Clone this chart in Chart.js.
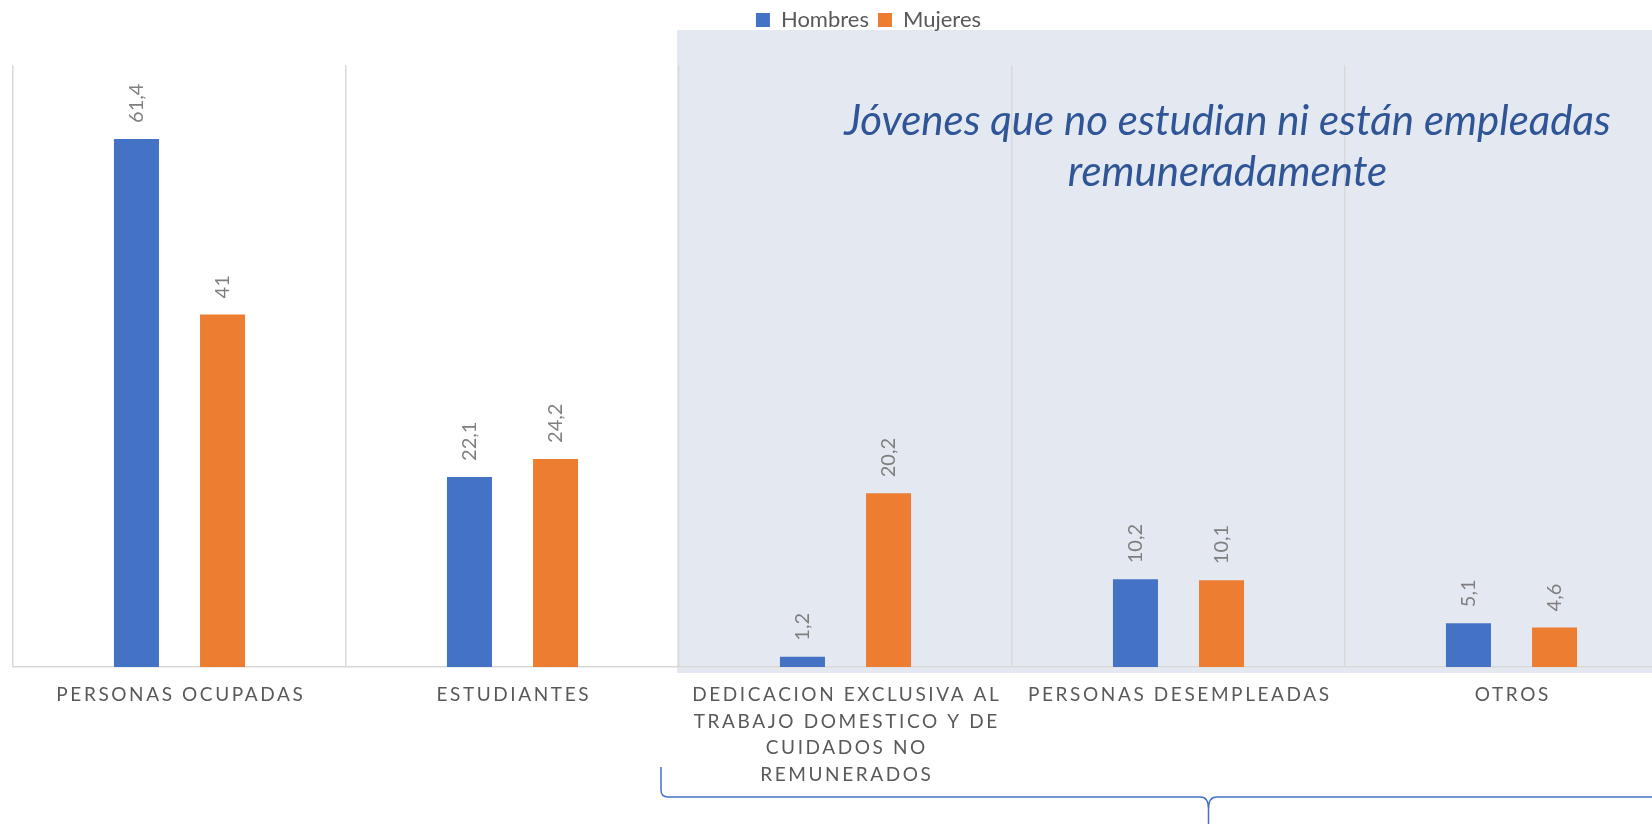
<!DOCTYPE html>
<html>
<head>
<meta charset="utf-8">
<script src="https://cdn.jsdelivr.net/npm/chart.js@4.4.1/dist/chart.umd.min.js"></script>
<style>
  html, body { margin: 0; padding: 0; background: #fff; overflow: hidden; }
  #wrap { width: 1652px; height: 824px; overflow: hidden; position: relative; }
  canvas { display: block; }
</style>
</head>
<body>
<div id="wrap"><canvas id="chart" width="1736" height="824"></canvas></div>
<script>
const categories = [
  "PERSONAS OCUPADAS",
  "ESTUDIANTES",
  ["DEDICACION EXCLUSIVA AL", "TRABAJO DOMESTICO Y DE", "CUIDADOS NO", "REMUNERADOS"],
  "PERSONAS DESEMPLEADAS",
  "OTROS"
]
const hombres = [61.4, 22.1, 1.2, 10.2, 5.1]
const mujeres = [41, 24.2, 20.2, 10.1, 4.6]
const seriesNames = ["Hombres", "Mujeres"]
const noteLines = ["Jóvenes que no estudian ni están empleadas", "remuneradamente"]

const blue = "#4472C4"
const orange = "#ED7D31"
const labelGray = "#595959"
const valueGray = "#7F7F7F"
const gridGray = "#D9D9D9"

const fmt = v => String(v).replace(".", ",")

// deja mas aire debajo de la leyenda y la corre un poco a la derecha
const legendSpace = {
  id: "legendSpace",
  beforeInit(chart) {
    const fit = chart.legend.fit
    chart.legend.fit = function () {
      fit.bind(chart.legend)()
      this.height += 24
    }
  },
  afterLayout(chart) {
    chart.legend.left += 23
    chart.legend.right += 23
  }
}

// fondo gris azulado detras de las categorias NiNi
const shadePlugin = {
  id: "shade",
  beforeDraw(chart) {
    const { ctx, chartArea, scales } = chart
    const x = scales.x
    const half = (x.getPixelForValue(1) - x.getPixelForValue(0)) / 2
    const left = x.getPixelForValue(2) - half - 2
    ctx.save()
    ctx.fillStyle = "#E4E8F1"
    ctx.fillRect(left, chartArea.top - 35, chart.width - left, chartArea.bottom - chartArea.top + 41)
    ctx.restore()
  }
}

// etiquetas de valor giradas
const valueLabels = {
  id: "valueLabels",
  afterDatasetsDraw(chart) {
    const { ctx } = chart
    ctx.save()
    ctx.font = "20px Lato"
    ctx.fillStyle = valueGray
    ctx.textAlign = "left"
    ctx.textBaseline = "middle"
    chart.data.datasets.forEach((ds, di) => {
      chart.getDatasetMeta(di).data.forEach((bar, i) => {
        ctx.save()
        ctx.translate(bar.x, bar.y - 16)
        ctx.rotate(-Math.PI / 2)
        ctx.fillText(fmt(ds.data[i]), 0, 0)
        ctx.restore()
      })
    })
    ctx.restore()
  }
}

// etiquetas del eje x con espaciado entre letras
const axisLabels = {
  id: "axisLabels",
  afterDraw(chart) {
    const { ctx, chartArea, scales } = chart
    ctx.save()
    ctx.font = "19px Lato"
    ctx.fillStyle = labelGray
    ctx.textAlign = "center"
    ctx.textBaseline = "middle"
    ctx.letterSpacing = "2.6px"
    categories.forEach((label, i) => {
      const lines = Array.isArray(label) ? label : [label]
      const x = scales.x.getPixelForValue(i) + 1.3
      lines.forEach((line, j) => {
        ctx.fillText(line, x, chartArea.bottom + 28 + j * 26.5)
      })
    })
    ctx.restore()
  }
}

// texto explicativo y llave inferior
const notePlugin = {
  id: "note",
  afterDraw(chart) {
    const { ctx, chartArea, scales } = chart
    const x = scales.x
    const cx = x.getPixelForValue(3) + 49
    ctx.save()
    ctx.font = "italic 42px Lato"
    ctx.fillStyle = "#2F5597"
    ctx.textAlign = "center"
    ctx.textBaseline = "alphabetic"
    noteLines.forEach((line, j) => {
      ctx.fillText(line, cx, chartArea.top + 70 + j * 51)
    })

    const half = (x.getPixelForValue(1) - x.getPixelForValue(0)) / 2
    const left = x.getPixelForValue(2) - half - 18
    const tip = cx - 19
    const yTop = chartArea.bottom + 100
    const yH = chartArea.bottom + 130
    ctx.strokeStyle = blue
    ctx.lineWidth = 1.5
    ctx.beginPath()
    ctx.moveTo(left, yTop)
    ctx.lineTo(left, yH - 7)
    ctx.quadraticCurveTo(left, yH, left + 7, yH)
    ctx.lineTo(tip - 8, yH)
    ctx.quadraticCurveTo(tip, yH, tip, yH + 12)
    ctx.lineTo(tip, chart.height)
    ctx.moveTo(tip, yH + 12)
    ctx.quadraticCurveTo(tip, yH, tip + 8, yH)
    ctx.lineTo(chart.width, yH)
    ctx.stroke()
    ctx.restore()
  }
}

new Chart(document.getElementById("chart"), {
  type: "bar",
  data: {
    labels: categories,
    datasets: [
      { label: seriesNames[0], data: hombres, backgroundColor: blue },
      { label: seriesNames[1], data: mujeres, backgroundColor: orange }
    ]
  },
  options: {
    responsive: false,
    animation: false,
    categoryPercentage: 0.517,
    barPercentage: 0.523,
    layout: { padding: { left: 13, right: 58, top: 0, bottom: 157 } },
    plugins: {
      legend: {
        position: "top",
        labels: {
          color: labelGray,
          boxWidth: 14,
          boxHeight: 14,
          padding: 9,
          font: { family: "Lato", size: 22 }
        }
      },
      tooltip: { enabled: false }
    },
    scales: {
      x: {
        grid: { color: gridGray, lineWidth: 1.5, drawTicks: false, offset: true },
        border: { color: gridGray, width: 1.5 },
        ticks: { display: false }
      },
      y: {
        display: false,
        min: 0,
        max: 70
      }
    }
  },
  plugins: [legendSpace, shadePlugin, valueLabels, axisLabels, notePlugin]
})
</script>
</body>
</html>
